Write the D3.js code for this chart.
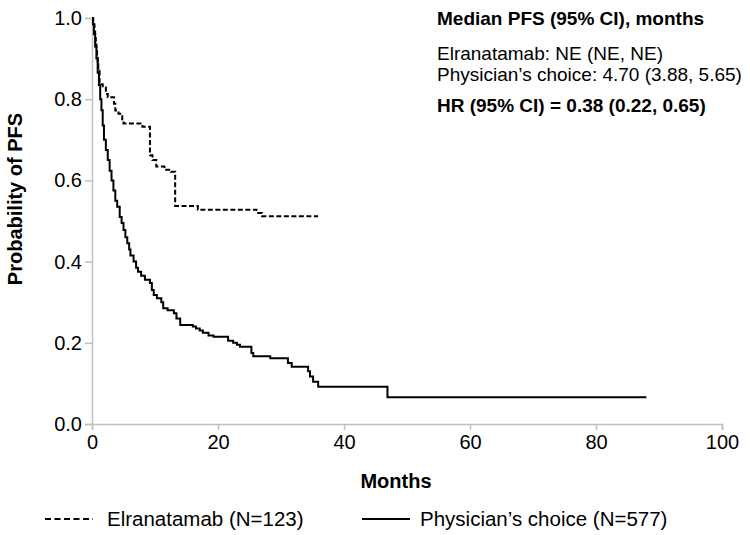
<!DOCTYPE html>
<html>
<head>
<meta charset="utf-8">
<script src="https://cdn.jsdelivr.net/npm/d3@7"></script>
<style>
  body { margin: 0; background: #fff; }
  text { font-family: "Liberation Sans", Arial, sans-serif; fill: #000; }
</style>
</head>
<body>
<div id="chart"></div>
<script>
var elraTime = [0, 0.2, 0.4, 0.5, 0.6, 0.7, 0.8, 0.9, 1.0, 1.2, 1.7, 2.2, 2.5, 3.5, 3.7, 4.2, 4.8, 5.0, 8.0, 9.2, 9.6, 10.2, 11.5, 12.5, 13.2, 16.8, 26.1, 27.0, 35.9],
elraSurv = [1.0, 0.984, 0.967, 0.951, 0.935, 0.919, 0.902, 0.886, 0.870, 0.837, 0.829, 0.813, 0.805, 0.789, 0.772, 0.764, 0.748, 0.740, 0.732, 0.662, 0.650, 0.634, 0.626, 0.621, 0.537, 0.528, 0.520, 0.512, 0.512];

var pcTime = [0, 0.15, 0.3, 0.5, 0.7, 0.9, 1.1, 1.3, 1.5, 1.7, 1.9, 2.2, 2.5, 2.8, 3.1, 3.4, 3.7, 4.0, 4.4, 4.7, 5.0, 5.3, 5.6, 5.9, 6.1, 6.6, 7.0, 7.3, 7.8, 8.4, 9.2, 9.5, 9.8, 10.3, 11.0, 11.3, 12.0, 13.0, 13.4, 14.0, 16.0, 16.5, 17.1, 17.6, 18.5, 19.3, 21.6, 22.4, 23.0, 23.5, 25.3, 25.6, 28.3, 31.1, 31.7, 34.3, 34.6, 35.1, 35.9, 46.9, 88.0],
pcSurv = [1.0, 0.985, 0.96, 0.93, 0.9, 0.865, 0.835, 0.80, 0.773, 0.735, 0.70, 0.675, 0.65, 0.624, 0.60, 0.575, 0.55, 0.535, 0.51, 0.495, 0.478, 0.46, 0.445, 0.43, 0.415, 0.40, 0.385, 0.375, 0.365, 0.355, 0.347, 0.33, 0.318, 0.31, 0.30, 0.285, 0.28, 0.273, 0.26, 0.244, 0.24, 0.235, 0.23, 0.225, 0.218, 0.215, 0.205, 0.2, 0.195, 0.19, 0.175, 0.167, 0.162, 0.15, 0.141, 0.13, 0.117, 0.104, 0.092, 0.066, 0.066];

var xTicks = [0, 20, 40, 60, 80, 100],
yTicks = [0, 0.2, 0.4, 0.6, 0.8, 1.0];

var legendLabels = ['Elranatamab (N=123)', 'Physician\u2019s choice (N=577)'];
var noteLines = ['Median PFS (95% CI), months', 'Elranatamab: NE (NE, NE)', 'Physician\u2019s choice: 4.70 (3.88, 5.65)', 'HR (95% CI) = 0.38 (0.22, 0.65)'];

var w = 750,
h = 535,
axisCol = '#c0c0c0';

var svg = d3.select('#chart').
append('svg').
attr('width', w).
attr('height', h);

var xScale = d3.scaleLinear().
domain([0, 100]).
range([92, 722]);

var yScale = d3.scaleLinear().
domain([0, 1]).
range([424, 18]);

var xAxis = d3.axisBottom(xScale).
tickValues(xTicks).
tickSize(6).
tickPadding(5).
tickFormat(d3.format('d'));

var yAxis = d3.axisLeft(yScale).
tickValues(yTicks).
tickSize(7).
tickPadding(3).
tickFormat(d3.format('.1f'));

var gx = svg.append('g').
attr('transform', 'translate(0,' + yScale(0) + ')').
call(xAxis);

var gy = svg.append('g').
attr('transform', 'translate(' + xScale(0) + ',0)').
call(yAxis);

[gx, gy].forEach(function (g) {
  g.select('.domain').attr('stroke', axisCol).attr('stroke-width', 1.5);
  g.selectAll('.tick line').attr('stroke', axisCol).attr('stroke-width', 1.5);
  g.selectAll('.tick text').
  style('font-family', '"Liberation Sans", Arial, sans-serif').
  style('font-size', '20px').
  attr('fill', '#000');
});

var line = d3.line().
x(d => xScale(d[0])).
y(d => yScale(d[1])).
curve(d3.curveStepAfter);

svg.append('path').
datum(d3.zip(pcTime, pcSurv)).
attr('d', line).
attr('fill', 'none').
attr('stroke', '#000').
attr('stroke-width', 2);

svg.append('path').
datum(d3.zip(elraTime, elraSurv)).
attr('d', line).
attr('fill', 'none').
attr('stroke', '#000').
attr('stroke-width', 2).
attr('stroke-dasharray', '5,2.5');

// axis titles
svg.append('text').
attr('x', 396).
attr('y', 488).
attr('text-anchor', 'middle').
style('font-size', '20px').
style('font-weight', 'bold').
text('Months');

svg.append('text').
attr('transform', 'translate(22,199) rotate(-90)').
attr('text-anchor', 'middle').
style('font-size', '20px').
style('font-weight', 'bold').
text('Probability of PFS');

// annotation block
var noteY = [25, 60, 81, 112];
svg.selectAll('.note').
data(noteLines).
enter().
append('text').
attr('class', 'note').
attr('x', 437).
attr('y', (d, i) => noteY[i]).
style('font-size', '19px').
style('font-weight', (d, i) => i === 0 || i === 3 ? 'bold' : 'normal').
text(d => d);

// legend
var legendX = [[45, 93, 107], [362, 410, 420]];
var legend = svg.selectAll('.legend').
data(legendLabels).
enter().
append('g').
attr('class', 'legend');

legend.append('line').
attr('x1', (d, i) => legendX[i][0]).
attr('x2', (d, i) => legendX[i][1]).
attr('y1', 519).
attr('y2', 519).
attr('stroke', '#000').
attr('stroke-width', 2).
attr('stroke-dasharray', (d, i) => i === 0 ? '6,3.5' : null);

legend.append('text').
attr('x', (d, i) => legendX[i][2]).
attr('y', 526).
style('font-size', '20.5px').
text(d => d);
</script>
</body>
</html>
